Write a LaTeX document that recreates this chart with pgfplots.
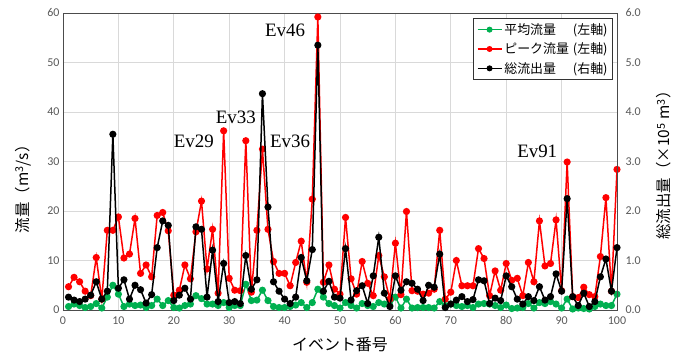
\documentclass[border=0pt]{standalone}
\usepackage{pgfplots}
\pgfplotsset{compat=1.18}
\usepackage{pgfplotstable}
\usepackage{fontspec}
\setmainfont{Carlito}
\newfontfamily\jp{Noto Sans CJK JP}
\newfontfamily\ser{Liberation Serif}
\definecolor{exgreen}{RGB}{0,176,80}
\definecolor{tickgray}{RGB}{89,89,89}
\definecolor{gridgray}{RGB}{217,217,217}

\pgfplotstableread{
x g r t
1 0.7 4.7 0.26
2 1.2 6.6 0.20
3 0.9 5.7 0.17
4 0.5 3.8 0.22
5 0.7 2.9 0.30
6 1.3 10.6 0.57
7 0.4 2.2 0.22
8 2.6 16.1 0.38
9 5.0 16.1 3.55
10 3.2 18.8 0.44
11 0.7 10.5 0.61
12 1.2 11.3 0.22
13 0.9 18.5 0.50
14 1.0 7.4 0.41
15 0.5 9.1 0.14
16 0.9 6.7 0.31
17 2.2 19.1 1.26
18 0.9 19.7 1.80
19 1.9 16.0 1.71
20 0.5 3.0 0.19
21 0.4 4.0 0.30
22 0.9 9.1 0.44
23 1.2 6.3 0.22
24 2.9 15.8 1.68
25 2.3 22.0 1.63
26 1.2 8.3 0.26
27 1.2 16.3 1.21
28 0.9 3.4 0.17
29 1.5 36.2 0.94
30 0.5 6.4 0.15
31 0.9 4.0 0.17
32 0.9 3.9 0.13
33 5.2 34.2 1.10
34 1.9 3.6 0.42
35 2.0 16.1 0.61
36 4.0 32.5 4.37
37 1.9 16.3 2.08
38 0.7 9.8 0.57
39 0.5 7.4 0.38
40 0.5 7.4 0.22
41 0.7 4.9 0.13
42 1.0 9.6 0.26
43 1.5 13.9 1.06
44 0.5 5.6 0.59
45 1.5 22.4 1.22
46 4.2 59.2 5.35
47 2.6 5.6 0.38
48 1.3 9.1 0.58
49 0.9 4.2 0.26
50 0.4 3.2 0.24
51 1.5 18.7 1.24
52 0.9 6.3 0.20
53 0.4 3.2 0.39
54 1.3 9.8 0.49
55 0.9 5.4 0.13
56 0.7 2.9 0.69
57 1.5 11.0 1.47
58 1.2 6.7 0.34
59 0.9 2.2 0.07
60 2.6 13.5 0.69
61 0.4 3.1 0.40
62 2.2 19.9 0.57
63 0.4 3.9 0.54
64 0.5 3.8 0.42
65 0.5 3.2 0.19
66 0.5 3.4 0.50
67 0.4 4.2 0.46
68 1.7 16.1 1.13
69 0.9 2.2 0.05
70 1.2 3.6 0.12
71 0.9 10.0 0.20
72 0.7 4.9 0.27
73 0.9 4.9 0.17
74 0.5 4.9 0.21
75 1.2 12.4 0.61
76 1.3 10.4 0.59
77 1.2 2.9 0.13
78 0.9 7.9 0.24
79 0.5 4.0 0.19
80 1.0 9.4 0.69
81 0.3 6.0 0.47
82 0.4 6.4 0.22
83 0.5 2.9 0.12
84 1.3 9.6 0.27
85 0.4 5.7 0.19
86 1.5 18.0 0.47
87 1.3 8.9 0.20
88 1.7 9.4 0.27
89 1.2 18.2 0.73
90 0.4 3.9 0.38
91 2.2 29.9 2.25
92 0.2 2.7 0.27
93 0.4 2.5 0.09
94 0.3 4.6 0.34
95 0.2 3.1 0.07
96 0.7 2.7 0.17
97 1.2 10.8 0.67
98 0.9 22.7 1.03
99 0.9 3.8 0.38
100 3.2 28.4 1.26
}\data

\pgfplotsset{
  common/.style={
    at={(0bp,0bp)}, anchor=south west,
    scale only axis, width=554bp, height=297bp,
    xmin=0, xmax=100,
    major tick length=0pt,
    tick label style={font=\fontsize{12}{14}\selectfont, text=tickgray},
    /pgf/number format/assume math mode=true,
    axis line style={black!70, line width=0.8bp},
    clip=false,
  },
  ser/.style={line width=1.5bp, mark=*, mark size=2.8bp},
  legend image code/.code={\draw[mark repeat=2, mark phase=2, #1, mark size=2.2bp] plot coordinates {(0bp,0bp) (12bp,0bp) (24bp,0bp)};},
}

\begin{document}
\begin{tikzpicture}
\useasboundingbox (-63bp,-50bp) rectangle (622bp,310bp);
\begin{axis}[common,
  ymin=0, ymax=60,
  xtick={0,10,...,100}, ytick={0,10,...,60},
  xticklabel style={yshift=-3bp},
  grid=major, grid style={gridgray, line width=0.8bp},
  xlabel={\jp\fontsize{16}{18}\selectfont イベント番号},
  xlabel style={at={(axis description cs:0.5,-0.118)}, anchor=center},
  ylabel={\jp\fontsize{15.5}{18}\selectfont 流量（m\textsuperscript{3}/s）},
  ylabel style={at={(axis description cs:-0.072,0.42)}, anchor=center},
]
\addplot[exgreen, ser] table[x=x, y=g] {\data};
\addplot[red, ser] table[x=x, y=r] {\data};
\node[font=\ser\fontsize{19}{20}\selectfont] at (axis cs:23.6,34.0) {Ev29};
\node[font=\ser\fontsize{19}{20}\selectfont] at (axis cs:31.2,39.0) {Ev33};
\node[font=\ser\fontsize{19}{20}\selectfont] at (axis cs:41.0,34.0) {Ev36};
\node[font=\ser\fontsize{19}{20}\selectfont] at (axis cs:40.1,56.6) {Ev46};
\node[font=\ser\fontsize{19}{20}\selectfont] at (axis cs:85.6,32.0) {Ev91};
\end{axis}
\begin{axis}[common,
  axis x line=none,
  axis y line*=right,
  ymin=0, ymax=6,
  ytick={0,1,...,6},
  yticklabel style={xshift=5bp, /pgf/number format/.cd, fixed, fixed zerofill, precision=1},
  ylabel={\jp\fontsize{15.5}{18}\selectfont 総流出量（×10\textsuperscript{5} m\textsuperscript{3}）},
  ylabel style={at={(axis description cs:1.085,0.50)}, anchor=center, rotate=0},
  legend style={at={(axis description cs:0.9928,0.983)}, anchor=north east,
    draw=black!80, line width=0.8bp, fill=white,
    font=\jp\fontsize{13}{15}\selectfont, row sep=3bp, inner sep=3bp,
    cells={anchor=west}},
]
\addlegendimage{exgreen, line width=1.5bp, mark=*}
\addlegendentry{\makebox[5.3em][l]{平均流量}(左軸)}
\addlegendimage{red, line width=1.5bp, mark=*}
\addlegendentry{\makebox[5.3em][l]{ピーク流量}(左軸)}
\addplot[black, ser] table[x=x, y=t] {\data};
\addlegendentry{\makebox[5.3em][l]{総流出量}(右軸)}
\end{axis}
\end{tikzpicture}
\end{document}
